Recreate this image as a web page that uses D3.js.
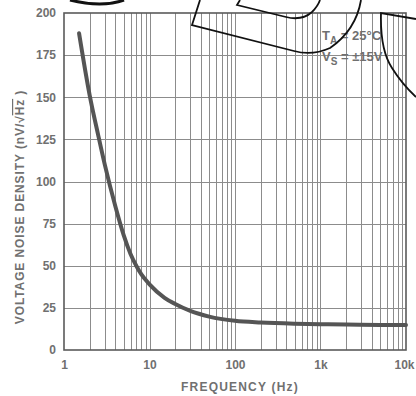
<!DOCTYPE html>
<html>
<head>
<meta charset="utf-8">
<script src="https://cdn.jsdelivr.net/npm/d3@7"></script>
<style>
  html, body { margin: 0; padding: 0; background: #fff; }
  svg { display: block; }
  text { font-family: "Liberation Sans", Arial, sans-serif; font-weight: bold; fill: #707070; }
</style>
</head>
<body>
<svg id="chart" width="416" height="396"></svg>
<script>
// Voltage noise density vs. frequency
const frequencies = [1.5, 2, 2.5, 3, 4, 5, 6, 7, 8, 10, 15, 20, 30, 50, 100, 200, 500, 1000, 2000, 5000, 10000];
const noise       = [188, 151, 128, 110, 85, 68, 57, 50, 45, 39, 31, 27.3, 23.2, 19.8, 17.3, 16.3, 15.6, 15.3, 15.1, 14.9, 14.8];

const xTickValues = [1, 10, 100, 1000, 10000];
const xTickLabels = ["1", "10", "100", "1k", "10k"];
const yTickValues = [0, 25, 50, 75, 100, 125, 150, 175, 200];

const svg = d3.select("#chart");
const margin = { left: 64, right: 10, top: 13, bottom: 46 };
const W = 416, H = 396;

const x = d3.scaleLog().domain([1, 10000]).range([margin.left, W - margin.right]);
const y = d3.scaleLinear().domain([0, 200]).range([H - margin.bottom, margin.top]);

// log grid: 2..9 in each decade plus the decade lines
const gridX = [];
for (let d = 1; d < 10000; d *= 10) {
  for (let k = 2; k <= 9; k++) gridX.push(d * k);
}
gridX.push(10, 100, 1000);

const grid = svg.append("g").attr("stroke", "#8c8c8c").attr("stroke-width", 1);
grid.selectAll("line.v").data(gridX).join("line")
  .attr("class", "v")
  .attr("x1", d => Math.round(x(d)) + 0.5).attr("x2", d => Math.round(x(d)) + 0.5)
  .attr("y1", y(200)).attr("y2", y(0));
grid.selectAll("line.h").data(yTickValues.filter(v => v > 0 && v < 200)).join("line")
  .attr("class", "h")
  .attr("x1", x(1)).attr("x2", x(10000))
  .attr("y1", d => Math.round(y(d)) + 0.5).attr("y2", d => Math.round(y(d)) + 0.5);

// frame
svg.append("rect")
  .attr("x", x(1)).attr("y", y(200))
  .attr("width", x(10000) - x(1)).attr("height", y(0) - y(200))
  .attr("fill", "none").attr("stroke", "#5a5a5a").attr("stroke-width", 1.6);

// noise curve
const line = d3.line()
  .x((d, i) => x(frequencies[i]))
  .y(d => y(d))
  .curve(d3.curveMonotoneX);
svg.append("path")
  .datum(noise)
  .attr("d", line)
  .attr("fill", "none")
  .attr("stroke", "#555")
  .attr("stroke-width", 4)
  .attr("stroke-linecap", "round");

const tickFont = sel => sel.attr("font-size", 12).attr("fill", "#707070")
  .style("font-family", "'Liberation Sans', Arial, sans-serif").style("font-weight", "bold");

// axes
const xAxis = d3.axisBottom(x).tickValues(xTickValues)
  .tickFormat((d, i) => xTickLabels[i]).tickSize(0).tickPadding(10);
const gx = svg.append("g").attr("transform", `translate(0,${y(0)})`).call(xAxis);
gx.select(".domain").remove();
gx.selectAll("text").call(tickFont);
// last label sits flush against the right edge
gx.selectAll("text").filter(d => d === 10000)
  .attr("text-anchor", "end").attr("x", W - 2 - x(10000));

const yAxis = d3.axisLeft(y).tickValues(yTickValues).tickSize(0).tickPadding(8);
const gy = svg.append("g").attr("transform", `translate(${x(1)},0)`).call(yAxis);
gy.select(".domain").remove();
gy.selectAll("text").call(tickFont);

// axis titles
svg.append("text")
  .attr("x", 240).attr("y", 391)
  .attr("text-anchor", "middle").attr("font-size", 12).attr("letter-spacing", 1.2)
  .text("FREQUENCY (Hz)");

const yt = svg.append("text")
  .attr("transform", `translate(24,207) rotate(-90)`)
  .attr("text-anchor", "middle").attr("font-size", 12).attr("letter-spacing", 0.9);
yt.append("tspan").text("VOLTAGE NOISE DENSITY (nV/\u221A");
yt.append("tspan").style("text-decoration", "overline").text("Hz");
yt.append("tspan").text(" )");

// operating conditions
const cond = svg.append("g").attr("font-size", 13);
const t1 = cond.append("text").attr("x", 322).attr("y", 40);
t1.append("tspan").text("T");
t1.append("tspan").attr("font-size", 10).attr("dy", 4).text("A");
t1.append("tspan").attr("dy", -4).text(" = 25\u00B0C");
const t2 = cond.append("text").attr("x", 322).attr("y", 61);
t2.append("tspan").text("V");
t2.append("tspan").attr("font-size", 10).attr("dy", 4).text("S");
t2.append("tspan").attr("dy", -4).text(" = \u00B115V");

// overlapping outline strokes across the top
const ink = svg.append("g").attr("fill", "none").attr("stroke", "#111").attr("stroke-width", 1.8);
ink.append("path").attr("d", "M70,0 Q102,8 124,0").attr("stroke-width", 3);
ink.append("path").attr("d", "M200,0 L192,25 L294,51 Q312,56 330,48 Q356,30 361,0");
ink.append("path").attr("d", "M240,0 L237,5 L286,17 Q302,21 312,12 Q318,6 320,0");
ink.append("path").attr("d", "M416,19 L381,13 Q380,50 392,68 Q402,84 416,97");
</script>
</body>
</html>
